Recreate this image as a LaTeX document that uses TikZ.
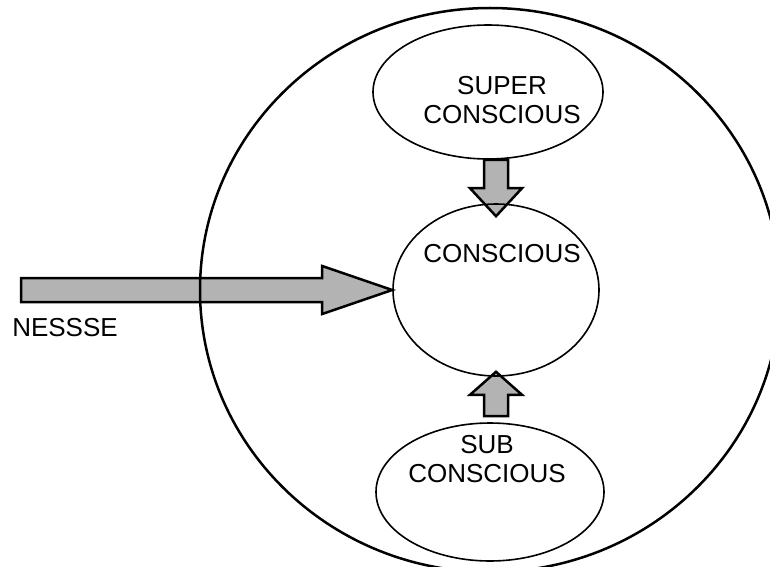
\documentclass[tikz,border=0pt]{standalone}
\usepackage{fontspec}
\setmainfont{Liberation Sans}
\usetikzlibrary{shapes.geometric,calc,backgrounds}
\definecolor{arrowgray}{HTML}{B3B3B3}
\begin{document}
\begin{tikzpicture}[x=1pt,y=1pt,line join=round,font=\fontsize{26}{29}\selectfont,
    oval/.style={draw,ellipse,line width=1.6pt,inner sep=0pt},
    lbl/.style={inner sep=0pt,align=center},
    fatarrow/.style n args={3}{draw,line width=2.5pt,fill=arrowgray,line join=miter,
      to path={let \p1=($(\tikztotarget)!#3!(\tikztostart)$) in
        ($(\tikztostart)!#1!-90:(\tikztotarget)$) -- ($(\p1)!#1!-90:(\tikztotarget)$)
        -- ($(\p1)!#2!-90:(\tikztotarget)$) -- (\tikztotarget)
        -- ($(\p1)!#2!90:(\tikztotarget)$) -- ($(\p1)!#1!90:(\tikztotarget)$)
        -- ($(\tikztostart)!#1!90:(\tikztotarget)$) -- cycle}}]
    \useasboundingbox (0,0) rectangle (770,566);
    \begin{scope}
        \clip (0,0) rectangle (770,566);
        \node[oval,line width=2.5pt,minimum width=580pt,minimum height=564pt] (mind) at (490,276) {};
    \end{scope}
    \node[oval,minimum width=230pt,minimum height=134pt] (super) at (488,474) {};
    \node[oval,minimum width=206pt,minimum height=172pt] (conscious) at (496,276) {};
    \node[oval,minimum width=228pt,minimum height=138pt] (sub) at (490,74) {};
    \node[lbl] (superlbl) at ([shift={(14,-8.5)}]super.center) {SUPER\\CONSCIOUS};
    \node[lbl] (conslbl) at ([shift={(6,36)}]conscious.center) {CONSCIOUS};
    \node[lbl] (sublbl) at ([shift={(-3,33)}]sub.center) {SUB\\CONSCIOUS};
    \coordinate (source) at (21,276);
    \node[lbl] (nessse) at (65,238.5) {NESSSE};
    \begin{scope}[on background layer]
        \draw[fatarrow={12pt}{24pt}{70pt}] (source) to (conscious.west);
        \draw[fatarrow={12pt}{26pt}{28pt}] (super.south -| conscious.north) to ([yshift=-13pt]conscious.north);
        \coordinate (subtop) at ([yshift=6pt]sub.north);
        \draw[fatarrow={12pt}{26pt}{23pt}] (subtop -| conscious.south) to ([yshift=5pt]conscious.south);
    \end{scope}
\end{tikzpicture}
\end{document}
